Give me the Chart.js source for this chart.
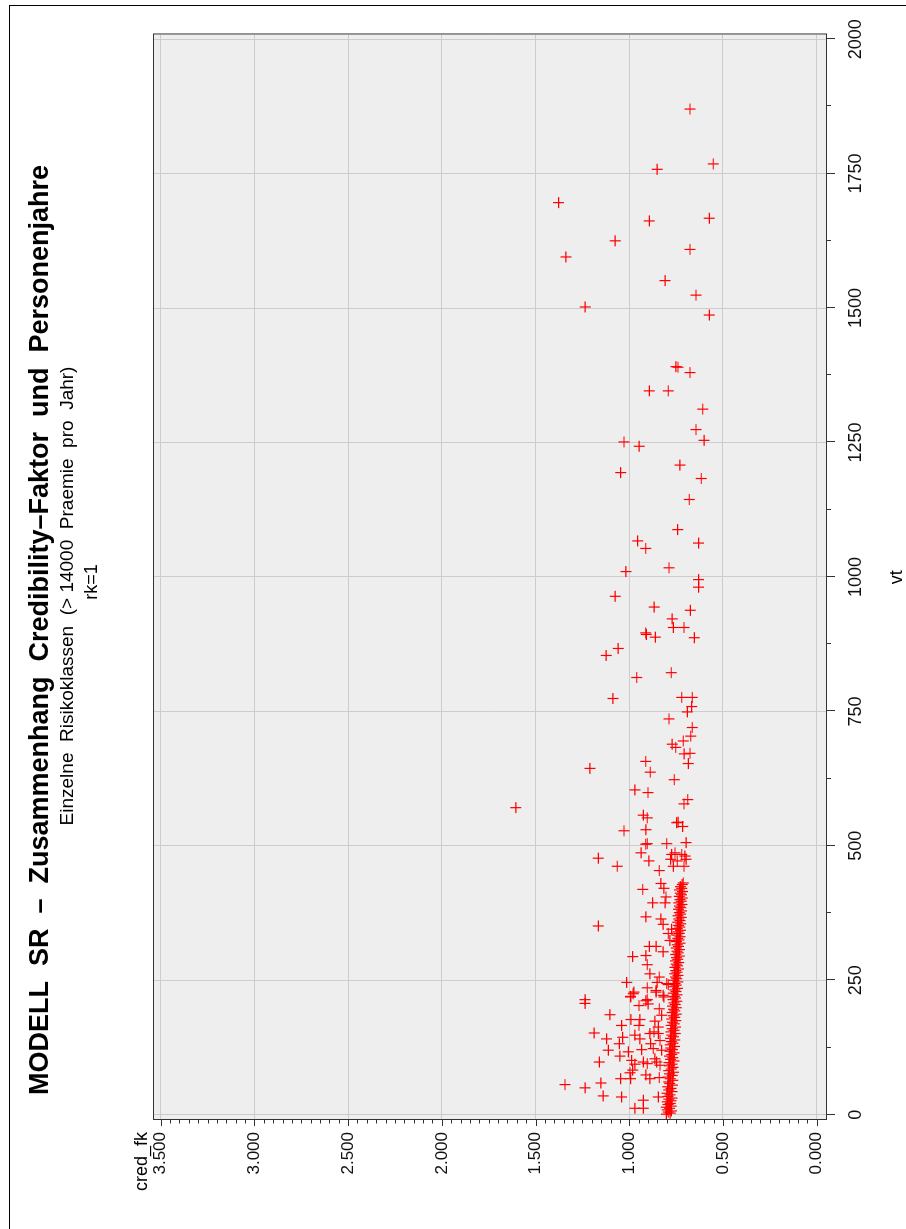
<!DOCTYPE html>
<html lang="de">
<head>
<meta charset="UTF-8">
<title>MODELL SR - Credibility-Faktor und Personenjahre</title>
<script src="https://cdn.jsdelivr.net/npm/chart.js"></script>
<style>
  html, body { margin: 0; padding: 0; overflow: hidden; background: #fff; }
  #page { position: absolute; left: 9px; top: 5px; width: 1000px; height: 1300px; border: 1px solid #000; }
  /* chart is drawn landscape and turned a quarter to the left */
  #wrap { position: absolute; left: 0; top: 0; width: 1229px; height: 906px;
          transform-origin: 0 0; transform: translateY(1229px) rotate(-90deg); }
</style>
</head>
<body>
<div id="page"></div>
<div id="wrap"><canvas id="chart" width="1229" height="906"></canvas></div>

<script>
// scattered risk classes
const vtScatter = [1870, 1768, 1758, 1696, 1662, 1667, 1625, 1609, 1595, 1551, 1524, 1502, 1487,
  1391, 1390, 1380, 1346, 1346, 1312, 1274, 1254, 1251, 1243, 1208, 1194, 1183,
  1144, 1088, 1067, 1063, 1053, 1010, 1017, 995, 981, 964, 944, 938, 922, 906, 906, 896, 893,
  888, 887, 867, 854, 813, 822, 774, 776, 776, 759, 749, 736, 720, 704, 695, 689, 683, 671,
  672, 653, 657, 637, 644, 623, 604, 599, 586, 578, 571,
  557, 552, 543, 544, 536, 528, 530, 503, 504, 504, 506, 487, 477, 462, 472, 454,
  484, 487, 484, 481, 475, 472, 475, 462, 462,
  419, 430, 421, 431, 394, 394, 405, 368, 364, 354, 351, 345, 337, 324, 313, 313, 303, 294,
  296, 279, 262, 256, 246, 246, 244, 242, 236, 231, 228, 220, 214, 214, 222,
  207, 225, 219, 212, 206, 203, 228, 219, 186, 197, 185, 166, 177, 177, 166, 174, 163, 152,
  141, 144, 148, 141, 151, 154, 151, 132, 120, 117, 109, 121, 123, 132, 120, 138, 98, 101,
  94, 98, 95, 104, 98, 92, 78, 83, 74, 67, 69, 67, 67, 56, 50, 59, 35, 33, 33, 27, 12, 12];
const credScatter = [0.676, 0.552, 0.851, 1.377, 0.893, 0.573, 1.075, 0.676, 1.338, 0.809, 0.644, 1.235, 0.573,
  0.751, 0.740, 0.676, 0.893, 0.792, 0.608, 0.644, 0.601, 1.028, 0.947, 0.730, 1.046, 0.616,
  0.680, 0.742, 0.955, 0.630, 0.912, 1.018, 0.788, 0.630, 0.630, 1.075, 0.867, 0.674, 0.771, 0.765, 0.708, 0.912, 0.909,
  0.861, 0.653, 1.059, 1.123, 0.960, 0.776, 1.087, 0.720, 0.664, 0.667, 0.690, 0.788, 0.664, 0.672, 0.712, 0.771, 0.752, 0.707,
  0.676, 0.685, 0.912, 0.888, 1.210, 0.760, 0.970, 0.900, 0.688, 0.708, 1.605,
  0.925, 0.904, 0.747, 0.739, 0.715, 1.028, 0.911, 0.912, 0.904, 0.800, 0.697, 0.937, 1.165, 1.064, 0.895, 0.840,
  0.774, 0.756, 0.720, 0.703, 0.779, 0.744, 0.697, 0.708, 0.765,
  0.928, 0.831, 0.815, 0.712, 0.875, 0.809, 0.804, 0.911, 0.831, 0.819, 1.165, 0.774, 0.792, 0.783, 0.893, 0.857, 0.819, 0.982,
  0.911, 0.904, 0.890, 0.840, 0.851, 1.014, 0.800, 0.792, 0.904, 0.857, 0.975, 0.993, 1.236, 0.904, 0.819,
  1.236, 0.979, 0.993, 0.911, 0.899, 0.948, 0.857, 0.815, 1.103, 0.840, 0.827, 1.041, 0.991, 0.943, 0.948, 0.863, 0.845, 1.187,
  1.121, 1.035, 0.970, 0.943, 0.890, 0.868, 0.845, 1.053, 1.112, 1.005, 1.050, 0.934, 0.872, 0.886, 0.827, 0.836, 1.160, 0.987,
  0.970, 0.925, 0.904, 0.863, 0.854, 0.836, 0.996, 0.982, 0.911, 0.890, 0.840, 1.046, 0.993, 1.343, 1.236, 1.151, 1.139, 1.041, 0.845, 0.925, 0.970, 0.925];

// dense band of small risk classes (vt < 430)
const vtBand = [1, 3, 5, 7, 9, 12, 14, 16, 19, 21, 24, 26, 29, 31, 34, 37, 40, 43, 46, 49, 52, 55, 58, 61,
  64, 67, 70, 73, 76, 79, 82, 85, 88, 91, 94, 97, 100, 103, 106, 109, 112, 115, 118, 121, 124, 127,
  130, 133, 136, 139, 142, 145, 148, 151, 154, 157, 160, 163, 166, 169, 172, 175, 178, 181, 184, 187,
  190, 193, 196, 199, 202, 205, 208, 211, 214, 217, 220, 223, 226, 229, 232, 235, 238, 241, 244, 247,
  250, 253, 256, 259, 262, 265, 268, 271, 274, 277, 280, 283, 286, 289, 292, 295, 298, 301, 304, 307,
  310, 313, 316, 319, 322, 325, 328, 331, 334, 337, 340, 343, 346, 349, 352, 355, 358, 361, 364, 367,
  370, 373, 376, 379, 382, 385, 388, 391, 394, 397, 400, 403, 406, 409, 412, 415, 418, 421, 424, 428];
const credBand = [0.802, 0.782, 0.792, 0.775, 0.798, 0.786, 0.803, 0.776, 0.793, 0.782, 0.798, 0.778, 0.789, 0.772, 0.794, 0.783, 0.799, 0.772, 0.789, 0.777, 0.795, 0.770, 0.784, 0.790,
  0.768, 0.781, 0.793, 0.771, 0.786, 0.764, 0.789, 0.776, 0.767, 0.785, 0.772, 0.788, 0.762, 0.780, 0.768, 0.786, 0.774, 0.761, 0.783, 0.770, 0.779, 0.759,
  0.782, 0.767, 0.776, 0.757, 0.780, 0.764, 0.773, 0.755, 0.778, 0.762, 0.771, 0.754, 0.776, 0.760, 0.769, 0.752, 0.774, 0.758, 0.766, 0.750,
  0.771, 0.757, 0.764, 0.749, 0.769, 0.755, 0.762, 0.747, 0.767, 0.753, 0.760, 0.745, 0.765, 0.751, 0.758, 0.743, 0.763, 0.749, 0.756, 0.741,
  0.761, 0.747, 0.754, 0.740, 0.758, 0.745, 0.752, 0.738, 0.756, 0.743, 0.750, 0.736, 0.754, 0.741, 0.748, 0.734, 0.752, 0.739, 0.746, 0.732,
  0.750, 0.737, 0.744, 0.730, 0.748, 0.735, 0.742, 0.729, 0.746, 0.733, 0.740, 0.727, 0.744, 0.731, 0.738, 0.725, 0.742, 0.729, 0.736, 0.723,
  0.740, 0.727, 0.734, 0.721, 0.738, 0.725, 0.732, 0.719, 0.736, 0.723, 0.730, 0.717, 0.734, 0.721, 0.728, 0.716, 0.732, 0.720, 0.727, 0.718];

const vtTicks = [0, 250, 500, 750, 1000, 1250, 1500, 1750, 2000];
const credTicks = [0, 0.5, 1, 1.5, 2, 2.5, 3, 3.5];

const titleText = 'MODELL  SR  \u2013  Zusammenhang  Credibility\u2013Faktor  und  Personenjahre';
const subtitleText = 'Einzelne  Risikoklassen  (> 14000  Praemie  pro  Jahr)';
const noteText = 'rk=1';

const points = [];
vtScatter.forEach((v, i) => points.push({ x: v, y: credScatter[i] }));
vtBand.forEach((v, i) => points.push({ x: v, y: credBand[i] }));

const FONT = '"Liberation Sans", Arial, Helvetica, sans-serif';

// minor ticks between major ticks
function minorOf(ticks, parts) {
  const out = [];
  for (let i = 0; i < ticks.length - 1; i++) {
    const step = (ticks[i + 1] - ticks[i]) / parts;
    for (let k = 1; k < parts; k++) out.push(ticks[i] + k * step);
  }
  return out;
}

const sasFrame = {
  id: 'sasFrame',
  beforeDraw(chart) {
    const { ctx, chartArea: a } = chart;
    ctx.save();
    ctx.fillStyle = '#eeeeee';
    ctx.fillRect(a.left, a.top, a.right - a.left, a.bottom - a.top);
    ctx.restore();
  },
  afterDraw(chart) {
    const { ctx, chartArea: a } = chart;
    const xs = chart.scales.x, ys = chart.scales.y;
    ctx.save();
    ctx.strokeStyle = '#333';
    ctx.lineWidth = 1;
    ctx.strokeRect(a.left + 0.5, a.top + 0.5, a.right - a.left, a.bottom - a.top);

    ctx.beginPath();
    vtTicks.forEach(v => {
      const p = Math.round(xs.getPixelForValue(v)) + 0.5;
      ctx.moveTo(p, a.bottom); ctx.lineTo(p, a.bottom + 9);
    });
    minorOf(vtTicks, 2).forEach(v => {
      const p = Math.round(xs.getPixelForValue(v)) + 0.5;
      ctx.moveTo(p, a.bottom); ctx.lineTo(p, a.bottom + 5);
    });
    credTicks.forEach(v => {
      const p = Math.round(ys.getPixelForValue(v)) + 0.5;
      ctx.moveTo(a.left, p); ctx.lineTo(a.left - 6, p);
    });
    minorOf(credTicks, 10).forEach(v => {
      const p = Math.round(ys.getPixelForValue(v)) + 0.5;
      ctx.moveTo(a.left, p); ctx.lineTo(a.left - 3.5, p);
    });
    ctx.stroke();

    ctx.fillStyle = '#000';
    ctx.textBaseline = 'alphabetic';
    ctx.textAlign = 'center';
    ctx.font = 'bold 27px ' + FONT;
    ctx.fillText(titleText, 599, 48);
    ctx.font = '19px ' + FONT;
    ctx.fillText(subtitleText, 633, 73);
    ctx.font = '18px ' + FONT;
    ctx.fillText(noteText, 647, 97);
    ctx.fillText('vt', (a.left + a.right) / 2, 902);
    ctx.textAlign = 'right';
    ctx.fillText('cred_fk', 97, 147);
    ctx.restore();
  }
};

new Chart(document.getElementById('chart'), {
  type: 'scatter',
  data: {
    datasets: [{
      label: 'cred_fk',
      data: points,
      pointStyle: 'cross',
      pointRadius: 5.5,
      pointHoverRadius: 5.5,
      borderColor: '#ff0000',
      backgroundColor: '#ff0000',
      borderWidth: 1.2
    }]
  },
  options: {
    responsive: false,
    animation: false,
    events: [],
    layout: { padding: { left: 0, top: 153, right: 30, bottom: 0 } },
    plugins: { legend: { display: false }, tooltip: { enabled: false }, title: { display: false } },
    scales: {
      x: {
        type: 'linear',
        position: 'bottom',
        min: -9.8,
        max: 2008.7,
        afterBuildTicks: s => { s.ticks = vtTicks.map(v => ({ value: v })); },
        afterFit: s => { s.height = 80; },
        grid: { color: '#cccccc', lineWidth: 1, drawTicks: false },
        border: { display: false },
        ticks: {
          padding: 19,
          maxRotation: 0,
          autoSkip: false,
          color: '#111',
          font: { family: FONT, size: 18 },
          callback: v => String(v)
        }
      },
      y: {
        type: 'linear',
        position: 'left',
        min: -0.0496,
        max: 3.541,
        afterBuildTicks: s => { s.ticks = credTicks.map(v => ({ value: v })); },
        afterFit: s => { s.width = 109; },
        grid: { color: '#cccccc', lineWidth: 1, drawTicks: false },
        border: { display: false },
        ticks: {
          padding: 12,
          autoSkip: false,
          color: '#111',
          font: { family: FONT, size: 17 },
          callback: v => v.toFixed(3)
        }
      }
    }
  },
  plugins: [sasFrame]
});
</script>
</body>
</html>
